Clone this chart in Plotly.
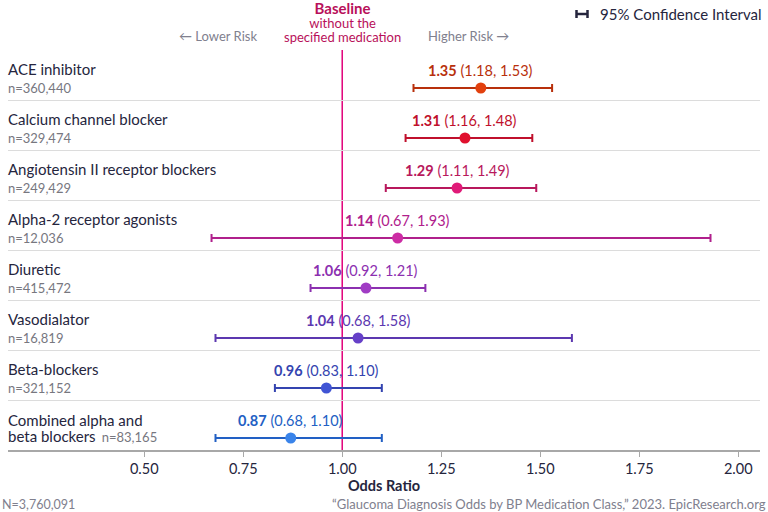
import plotly.graph_objects as go

names = ["ACE inhibitor", "Calcium channel blocker", "Angiotensin II receptor blockers",
         "Alpha-2 receptor agonists", "Diuretic", "Vasodialator", "Beta-blockers",
         "Combined alpha and<br>beta blockers"]
counts = ["360,440", "329,474", "249,429", "12,036", "415,472", "16,819", "321,152", "83,165"]
odds = [1.35, 1.31, 1.29, 1.14, 1.06, 1.04, 0.96, 0.87]
lower = [1.18, 1.16, 1.11, 0.67, 0.92, 0.68, 0.83, 0.68]
upper = [1.53, 1.48, 1.49, 1.93, 1.21, 1.58, 1.10, 1.10]
line_colors = ["#b8300c", "#c0102c", "#b8185c", "#b0208c", "#8c30b0", "#5c38b0", "#3444b0", "#2260c4"]
dot_colors = ["#e2400e", "#e0102e", "#e01a78", "#cc2ca4", "#a03cc4", "#6640c8", "#4054d4", "#3a84ea"]
tick_vals = [0.50, 0.75, 1.00, 1.25, 1.50, 1.75, 2.00]

FONT = "Lato, 'Open Sans', sans-serif"
fig = go.Figure()
annotations = []
for i in range(len(names)):
    yc = i + 0.76
    fig.add_trace(go.Scatter(
        x=[odds[i]], y=[yc], mode="markers",
        marker=dict(size=11, color=dot_colors[i]),
        error_x=dict(type="data", symmetric=False,
                     array=[upper[i] - odds[i]], arrayminus=[odds[i] - lower[i]],
                     color=line_colors[i], thickness=2, width=4),
        showlegend=False, hoverinfo="skip"))
    annotations.append(dict(
        x=odds[i], y=i + 0.4, xref="x", yref="y", showarrow=False,
        text=f"<b>{odds[i]:.2f}</b> ({lower[i]:.2f}, {upper[i]:.2f})",
        font=dict(family=FONT, size=14.5, color=line_colors[i]), xanchor="center", yanchor="middle"))
    if "<br>" in names[i]:
        first, second = names[i].split("<br>")
        annotations.append(dict(
            x=0, xshift=-2, y=i + 0.55, xref="paper", yref="y", showarrow=False, xanchor="left",
            yanchor="middle", align="left",
            text=(f"<span style='font-size:15px'>{first}</span><br>"
                  f"<span style='font-size:15px'>{second}</span>  "
                  f"<span style='color:#77777f;font-size:13px'>n={counts[i]}</span>"),
            font=dict(family=FONT, size=12, color="#25253d")))
    else:
        annotations.append(dict(
            x=0, xshift=-2, y=i + 0.38, xref="paper", yref="y", showarrow=False, xanchor="left",
            yanchor="middle", text=names[i], font=dict(family=FONT, size=15, color="#25253d")))
        annotations.append(dict(
            x=0, xshift=-2, y=i + 0.76, xref="paper", yref="y", showarrow=False, xanchor="left",
            yanchor="middle", text=f"n={counts[i]}", font=dict(family=FONT, size=13, color="#77777f")))

# baseline vertical line
fig.add_shape(type="line", x0=1.0, x1=1.0, xref="x", y0=-0.16, y1=len(names), yref="y",
              line=dict(color="#e0007a", width=1.5), layer="below")

# header texts
annotations += [
    dict(x=1.0, xref="x", y=1.0, yref="paper", yshift=50 - 22,
         text=("<span style='font-size:15px'><b>Baseline</b></span><br>"
               "<span style='font-size:13px'>without the</span><br>"
               "<span style='font-size:13px'>specified medication</span>"),
         showarrow=False, font=dict(family=FONT, size=10.8, color="#b8105a"),
         xanchor="center", yanchor="middle"),
    dict(x=0.687, xref="x", y=1.0, yref="paper", yshift=50 - 36, text="\u2190 Lower Risk", showarrow=False,
         font=dict(family=FONT, size=13, color="#80808e"), xanchor="center", yanchor="middle"),
    dict(x=1.318, xref="x", y=1.0, yref="paper", yshift=50 - 36, text="Higher Risk \u2192", showarrow=False,
         font=dict(family=FONT, size=13, color="#80808e"), xanchor="center", yanchor="middle"),
    dict(x=1.0, xref="paper", xshift=4, y=1.0, yref="paper", yshift=50 - 14, text="95% Confidence Interval",
         showarrow=False, font=dict(family=FONT, size=15, color="#25253d"), xanchor="right", yanchor="middle"),
    dict(x=0, xref="paper", xshift=-8, y=0, yref="paper", yshift=-54, text="N=3,760,091", showarrow=False,
         font=dict(family=FONT, size=12.5, color="#80808e"), xanchor="left", yanchor="middle"),
    dict(x=1, xref="paper", xshift=8, y=0, yref="paper", yshift=-54,
         text="\u201cGlaucoma Diagnosis Odds by BP Medication Class,\u201d 2023. EpicResearch.org",
         showarrow=False, font=dict(family=FONT, size=13, color="#80808e"),
         xanchor="right", yanchor="middle"),
]

# legend icon (CI glyph)
for sh in [dict(x0=576, x1=588, y0=14, y1=14), dict(x0=576.5, x1=576.5, y0=10, y1=18),
           dict(x0=587.5, x1=587.5, y0=10, y1=18)]:
    fig.add_shape(type="line", xref="paper", yref="paper",
                  x0=(sh["x0"] - 8) / 752, x1=(sh["x1"] - 8) / 752,
                  y0=(450 - sh["y0"]) / 400, y1=(450 - sh["y1"]) / 400,
                  line=dict(color="#25253d", width=2.5))

fig.update_layout(
    width=768, height=512, margin=dict(l=8, r=8, t=50, b=62),
    paper_bgcolor="white", plot_bgcolor="white",
    font=dict(family=FONT, color="#25253d"),
    annotations=annotations,
    xaxis=dict(range=[0.156, 2.055], tickvals=tick_vals, ticktext=[f"{v:.2f}" for v in tick_vals],
               showgrid=False, zeroline=False, showline=True, linecolor="#a8a8a8", linewidth=1.5,
               ticks="outside", ticklen=5, tickcolor="#a8a8a8",
               tickfont=dict(family=FONT, size=14.5, color="#25253d"),
               title=dict(text="<b>Odds Ratio</b>", font=dict(family=FONT, size=14.5, color="#25253d"),
                          standoff=4)),
    yaxis=dict(range=[len(names), 0], tickvals=list(range(len(names))), showticklabels=False,
               showgrid=True, gridcolor="#dcdcdc", gridwidth=1, zeroline=False, showline=False),
)
fig.write_html("out.html")
